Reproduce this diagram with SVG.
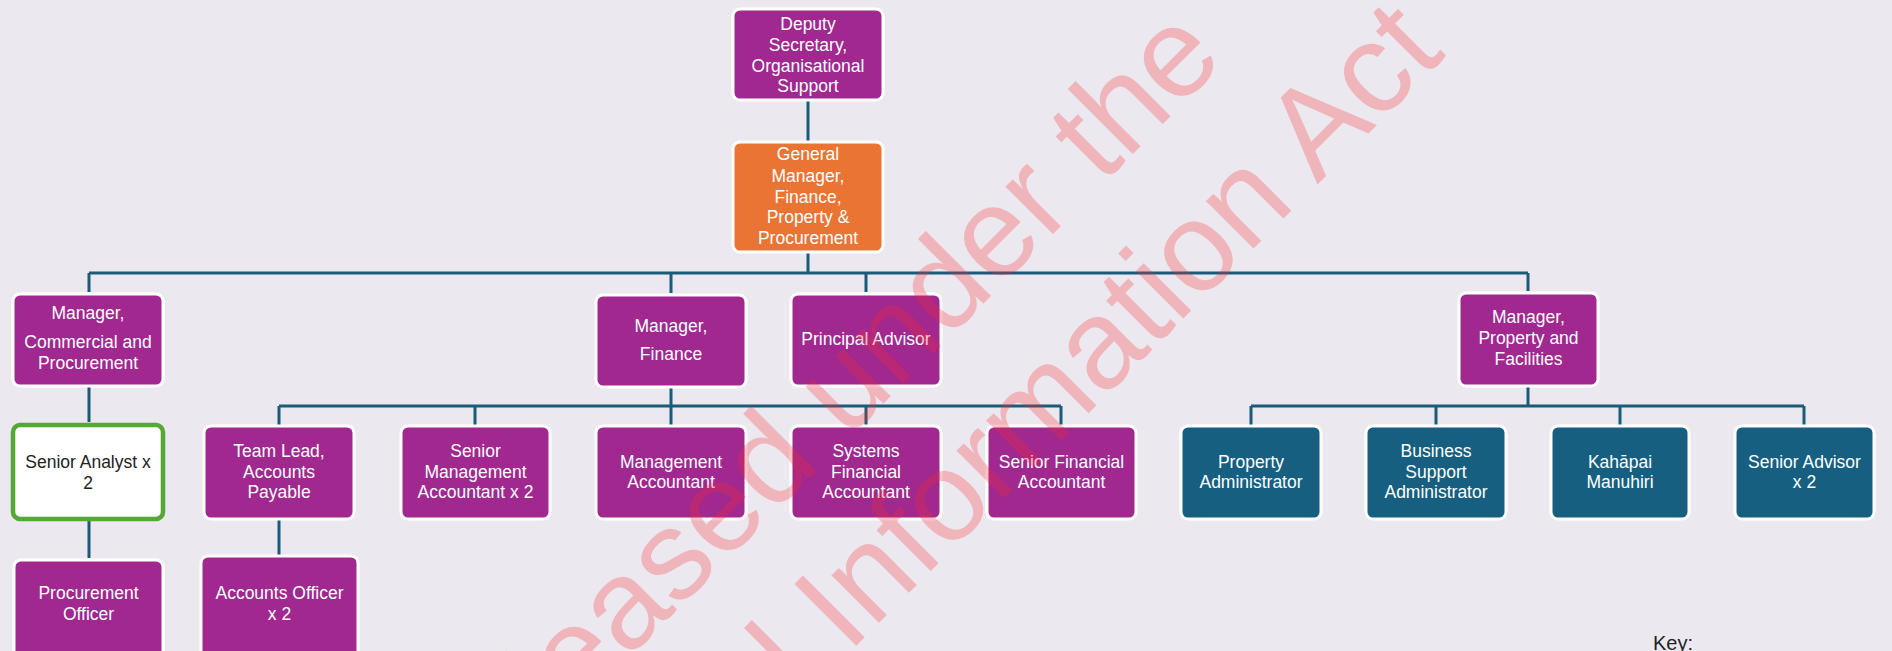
<svg xmlns="http://www.w3.org/2000/svg" width="1892" height="651" viewBox="0 0 1892 651">
<style>
.bg{fill:#ebe9ef}
.box{stroke:#ffffff;stroke-width:3}
.p{fill:#a0288f}
.o{fill:#ea7434}
.t{fill:#165f80}
.w{fill:#ffffff;stroke:#55a831;stroke-width:4.5}
.lbl{font-family:"Liberation Sans",Arial,sans-serif;font-size:17.5px;fill:#ffffff;text-anchor:middle}
.dark{fill:#222222}
.conn{stroke:#1b5a78;stroke-width:3;fill:none}
.wm{font-family:"Liberation Sans",Arial,sans-serif;font-size:127px;fill:#ff2832;opacity:0.27}
</style>
<rect class="bg" x="0" y="0" width="1892" height="651"/>

<g id="connectors">
<path class="conn" d="M808 101V141"/>
<path class="conn" d="M808 253V273M89 273H1528M89 273V292M671 273V293M866 273V292M1528 273V291"/>
<path class="conn" d="M89 387V422M89 521V558"/>
<path class="conn" d="M671 388V406M279 406H1061M279 406V425M475 406V425M671 406V425M866 406V425M1061 406V425"/>
<path class="conn" d="M279 520V555"/>
<path class="conn" d="M1528 387V406M1251 406H1804M1251 406V425M1436 406V425M1620 406V425M1804 406V425"/>
</g>

<g id="n-deputy">
<rect class="box p" x="733" y="9" width="150" height="91" rx="7"/>
<text class="lbl" x="808" y="30">Deputy</text>
<text class="lbl" x="808" y="51">Secretary,</text>
<text class="lbl" x="808" y="71.5">Organisational</text>
<text class="lbl" x="808" y="92">Support</text>
</g>
<g id="n-gm">
<rect class="box o" x="733" y="142" width="150" height="110" rx="7"/>
<text class="lbl" x="808" y="160">General</text>
<text class="lbl" x="808" y="181.5">Manager,</text>
<text class="lbl" x="808" y="202.5">Finance,</text>
<text class="lbl" x="808" y="223">Property &amp;</text>
<text class="lbl" x="808" y="243.5">Procurement</text>
</g>
<g id="n-commercial">
<rect class="box p" x="13" y="294" width="150" height="92" rx="7"/>
<text class="lbl" x="88" y="319">Manager,</text>
<text class="lbl" x="88" y="348">Commercial and</text>
<text class="lbl" x="88" y="369">Procurement</text>
</g>
<g id="n-finance">
<rect class="box p" x="596" y="295" width="150" height="92" rx="7"/>
<text class="lbl" x="671" y="332">Manager,</text>
<text class="lbl" x="671" y="360">Finance</text>
</g>
<g id="n-principal">
<rect class="box p" x="791" y="294" width="150" height="92" rx="7"/>
<text class="lbl" x="866" y="345">Principal Advisor</text>
</g>
<g id="n-property">
<rect class="box p" x="1459" y="293" width="139" height="93" rx="7"/>
<text class="lbl" x="1528.5" y="323">Manager,</text>
<text class="lbl" x="1528.5" y="344">Property and</text>
<text class="lbl" x="1528.5" y="365">Facilities</text>
</g>
<g id="n-senior-analyst">
<rect class="w" x="13" y="425" width="150" height="94" rx="7"/>
<text class="lbl dark" x="88" y="468">Senior Analyst x</text>
<text class="lbl dark" x="88" y="489">2</text>
</g>
<g id="n-procurement-officer">
<rect class="box p" x="14" y="560" width="149" height="100" rx="7"/>
<text class="lbl" x="88.5" y="599">Procurement</text>
<text class="lbl" x="88.5" y="620">Officer</text>
</g>
<g id="n-team-lead">
<rect class="box p" x="204" y="426" width="150" height="93" rx="7"/>
<text class="lbl" x="279" y="457">Team Lead,</text>
<text class="lbl" x="279" y="477.5">Accounts</text>
<text class="lbl" x="279" y="498">Payable</text>
</g>
<g id="n-accounts-officer">
<rect class="box p" x="201" y="556" width="157" height="104" rx="7"/>
<text class="lbl" x="279.5" y="599">Accounts Officer</text>
<text class="lbl" x="279.5" y="620">x 2</text>
</g>
<g id="n-sma">
<rect class="box p" x="401" y="426" width="149" height="93" rx="7"/>
<text class="lbl" x="475.5" y="457">Senior</text>
<text class="lbl" x="475.5" y="477.5">Management</text>
<text class="lbl" x="475.5" y="498">Accountant x 2</text>
</g>
<g id="n-ma">
<rect class="box p" x="596" y="426" width="150" height="93" rx="7"/>
<text class="lbl" x="671" y="467.5">Management</text>
<text class="lbl" x="671" y="488">Accountant</text>
</g>
<g id="n-sfa">
<rect class="box p" x="791" y="426" width="150" height="93" rx="7"/>
<text class="lbl" x="866" y="457">Systems</text>
<text class="lbl" x="866" y="477.5">Financial</text>
<text class="lbl" x="866" y="498">Accountant</text>
</g>
<g id="n-senior-fa">
<rect class="box p" x="987" y="426" width="149" height="93" rx="7"/>
<text class="lbl" x="1061.5" y="467.5">Senior Financial</text>
<text class="lbl" x="1061.5" y="488">Accountant</text>
</g>
<g id="n-property-admin">
<rect class="box t" x="1181" y="426" width="140" height="93" rx="7"/>
<text class="lbl" x="1251" y="467.5">Property</text>
<text class="lbl" x="1251" y="488">Administrator</text>
</g>
<g id="n-business-support">
<rect class="box t" x="1366" y="426" width="140" height="93" rx="7"/>
<text class="lbl" x="1436" y="457">Business</text>
<text class="lbl" x="1436" y="477.5">Support</text>
<text class="lbl" x="1436" y="498">Administrator</text>
</g>
<g id="n-kahapai">
<rect class="box t" x="1551" y="426" width="138" height="93" rx="7"/>
<text class="lbl" x="1620" y="467.5">Kahāpai</text>
<text class="lbl" x="1620" y="488">Manuhiri</text>
</g>
<g id="n-senior-advisor">
<rect class="box t" x="1735" y="426" width="139" height="93" rx="7"/>
<text class="lbl" x="1804.5" y="467.5">Senior Advisor</text>
<text class="lbl" x="1804.5" y="488">x 2</text>
</g>

<text class="lbl dark" x="1653" y="650" style="text-anchor:start;font-size:20px">Key:</text>

<g id="watermark">
<text class="wm" transform="rotate(-45)"><tspan x="-284" y="910">Released under the</tspan><tspan x="-284" y="1062">Official Information Act</tspan></text>
</g>
</svg>
